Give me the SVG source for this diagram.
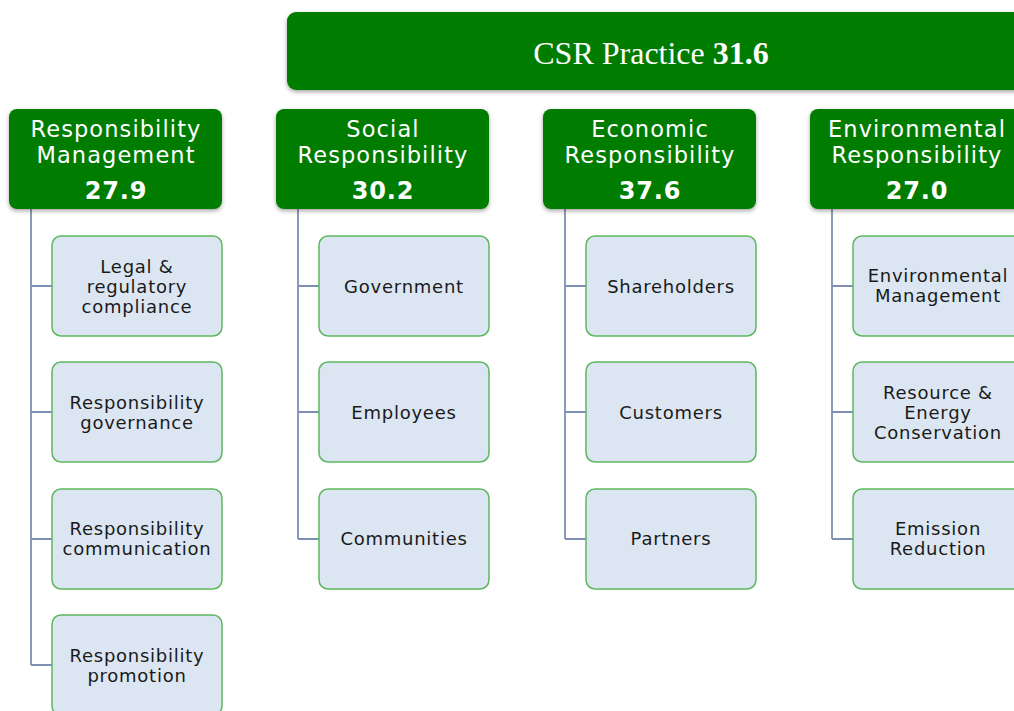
<svg xmlns="http://www.w3.org/2000/svg" width="1014" height="711" viewBox="0 0 1014 711">
  <defs>
    <filter id="shadow" x="-10%" y="-10%" width="120%" height="130%">
      <feDropShadow dx="0" dy="2" stdDeviation="2" flood-color="#000" flood-opacity="0.35"/>
    </filter>
  </defs>
  <style>
    .head { fill: #007c00; filter: url(#shadow); }
    .cat-title { fill: #ffffff; font-family: "DejaVu Sans", Verdana, sans-serif; font-size: 22.5px; letter-spacing: 1.1px; text-anchor: middle; }
    .cat-score { fill: #ffffff; font-family: "DejaVu Sans", Verdana, sans-serif; font-size: 24px; letter-spacing: 0.8px; font-weight: bold; text-anchor: middle; }
    .item { fill: #dce6f2; stroke: #5cb85c; stroke-width: 1.5; }
    .item-text { fill: #1a1a1a; font-family: "DejaVu Sans", Verdana, sans-serif; font-size: 18px; letter-spacing: 0.75px; text-anchor: middle; }
    .link { fill: none; stroke: #7d8fb3; stroke-width: 1.8; }
  </style>
  <rect width="1014" height="711" fill="#ffffff"/>

  <!-- connectors -->
  <g id="connectors">
    <path class="link" d="M31,209 V665 M31,286 H52 M31,412 H52 M31,539 H52 M31,665 H52"/>
    <path class="link" d="M298,209 V539 M298,286 H319 M298,412 H319 M298,539 H319"/>
    <path class="link" d="M565,209 V539 M565,286 H586 M565,412 H586 M565,539 H586"/>
    <path class="link" d="M832,209 V539 M832,286 H853 M832,412 H853 M832,539 H853"/>
  </g>

  <!-- root -->
  <g id="csr-practice">
    <rect class="head" x="287" y="12" width="740" height="78" rx="9"/>
    <text x="651" y="64" fill="#ffffff" font-family="'Liberation Serif', 'DejaVu Serif', serif" font-size="32" text-anchor="middle">CSR Practice <tspan font-weight="bold">31.6</tspan></text>
  </g>

  <!-- categories -->
  <g id="responsibility-management">
    <rect class="head" x="9" y="109" width="213" height="100" rx="8"/>
    <text class="cat-title" x="116" y="137">Responsibility</text>
    <text class="cat-title" x="116" y="163">Management</text>
    <text class="cat-score" x="116" y="199">27.9</text>
  </g>
  <g id="social-responsibility">
    <rect class="head" x="276" y="109" width="213" height="100" rx="8"/>
    <text class="cat-title" x="383" y="137">Social</text>
    <text class="cat-title" x="383" y="163">Responsibility</text>
    <text class="cat-score" x="383" y="199">30.2</text>
  </g>
  <g id="economic-responsibility">
    <rect class="head" x="543" y="109" width="213" height="100" rx="8"/>
    <text class="cat-title" x="650" y="137">Economic</text>
    <text class="cat-title" x="650" y="163">Responsibility</text>
    <text class="cat-score" x="650" y="199">37.6</text>
  </g>
  <g id="environmental-responsibility">
    <rect class="head" x="810" y="109" width="230" height="100" rx="8"/>
    <text class="cat-title" x="917" y="137">Environmental</text>
    <text class="cat-title" x="917" y="163">Responsibility</text>
    <text class="cat-score" x="917" y="199">27.0</text>
  </g>

  <!-- Responsibility Management items -->
  <g id="legal-compliance">
    <rect class="item" x="52" y="236" width="170" height="100" rx="9"/>
    <text class="item-text" x="137" y="273">Legal &amp;</text>
    <text class="item-text" x="137" y="293">regulatory</text>
    <text class="item-text" x="137" y="313">compliance</text>
  </g>
  <g id="responsibility-governance">
    <rect class="item" x="52" y="362" width="170" height="100" rx="9"/>
    <text class="item-text" x="137" y="409">Responsibility</text>
    <text class="item-text" x="137" y="429">governance</text>
  </g>
  <g id="responsibility-communication">
    <rect class="item" x="52" y="489" width="170" height="100" rx="9"/>
    <text class="item-text" x="137" y="535">Responsibility</text>
    <text class="item-text" x="137" y="555">communication</text>
  </g>
  <g id="responsibility-promotion">
    <rect class="item" x="52" y="615" width="170" height="100" rx="9"/>
    <text class="item-text" x="137" y="662">Responsibility</text>
    <text class="item-text" x="137" y="682">promotion</text>
  </g>

  <!-- Social Responsibility items -->
  <g id="government">
    <rect class="item" x="319" y="236" width="170" height="100" rx="9"/>
    <text class="item-text" x="404" y="293">Government</text>
  </g>
  <g id="employees">
    <rect class="item" x="319" y="362" width="170" height="100" rx="9"/>
    <text class="item-text" x="404" y="419">Employees</text>
  </g>
  <g id="communities">
    <rect class="item" x="319" y="489" width="170" height="100" rx="9"/>
    <text class="item-text" x="404" y="545">Communities</text>
  </g>

  <!-- Economic Responsibility items -->
  <g id="shareholders">
    <rect class="item" x="586" y="236" width="170" height="100" rx="9"/>
    <text class="item-text" x="671" y="293">Shareholders</text>
  </g>
  <g id="customers">
    <rect class="item" x="586" y="362" width="170" height="100" rx="9"/>
    <text class="item-text" x="671" y="419">Customers</text>
  </g>
  <g id="partners">
    <rect class="item" x="586" y="489" width="170" height="100" rx="9"/>
    <text class="item-text" x="671" y="545">Partners</text>
  </g>

  <!-- Environmental Responsibility items -->
  <g id="environmental-management">
    <rect class="item" x="853" y="236" width="190" height="100" rx="9"/>
    <text class="item-text" x="938" y="282">Environmental</text>
    <text class="item-text" x="938" y="302">Management</text>
  </g>
  <g id="resource-energy-conservation">
    <rect class="item" x="853" y="362" width="190" height="100" rx="9"/>
    <text class="item-text" x="938" y="399">Resource &amp;</text>
    <text class="item-text" x="938" y="419">Energy</text>
    <text class="item-text" x="938" y="439">Conservation</text>
  </g>
  <g id="emission-reduction">
    <rect class="item" x="853" y="489" width="190" height="100" rx="9"/>
    <text class="item-text" x="938" y="535">Emission</text>
    <text class="item-text" x="938" y="555">Reduction</text>
  </g>
</svg>
